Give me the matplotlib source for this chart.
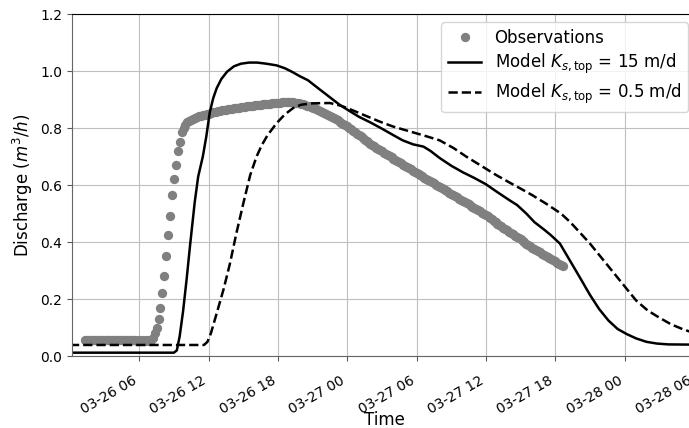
import pandas as pd
import matplotlib.pyplot as plt
import matplotlib.dates as mdates

# Observed discharge, 10-minute records starting 03-26 01:20
obs_start = "2021-03-26 01:20"
obs_q = [
    0.058, 0.058, 0.057, 0.058, 0.057,
    0.057, 0.058, 0.057, 0.057, 0.056, 0.057,
    0.056, 0.057, 0.056, 0.056, 0.057, 0.056,
    0.056, 0.055, 0.056, 0.055, 0.056, 0.055,
    0.055, 0.056, 0.055, 0.055, 0.054, 0.055,
    0.054, 0.055, 0.054, 0.055, 0.054, 0.056,
    0.065, 0.080, 0.100, 0.130, 0.170, 0.220,
    0.280, 0.350, 0.425, 0.490, 0.565, 0.620,
    0.670, 0.720, 0.752, 0.785, 0.800, 0.812,
    0.820, 0.825, 0.829, 0.832, 0.835, 0.838,
    0.841, 0.843, 0.845, 0.847, 0.849, 0.851,
    0.853, 0.855, 0.856, 0.858, 0.859, 0.861,
    0.862, 0.863, 0.865, 0.866, 0.867, 0.868,
    0.869, 0.870, 0.871, 0.872, 0.873, 0.874,
    0.875, 0.876, 0.877, 0.878, 0.879, 0.880,
    0.881, 0.882, 0.882, 0.883, 0.884, 0.885,
    0.886, 0.886, 0.887, 0.888, 0.888, 0.889,
    0.889, 0.890, 0.890, 0.891, 0.891, 0.891,
    0.890, 0.890, 0.889, 0.888, 0.887, 0.885,
    0.883, 0.881, 0.879, 0.877, 0.874, 0.872,
    0.869, 0.866, 0.863, 0.860, 0.857, 0.853,
    0.849, 0.846, 0.842, 0.839, 0.835, 0.831,
    0.827, 0.822, 0.818, 0.814, 0.810, 0.806,
    0.801, 0.796, 0.791, 0.786, 0.781, 0.776,
    0.771, 0.766, 0.760, 0.755, 0.750, 0.745,
    0.740, 0.736, 0.731, 0.727, 0.722, 0.718,
    0.714, 0.710, 0.706, 0.701, 0.697, 0.693,
    0.689, 0.685, 0.681, 0.676, 0.672, 0.668,
    0.664, 0.660, 0.656, 0.651, 0.647, 0.643,
    0.639, 0.635, 0.631, 0.626, 0.622, 0.618,
    0.614, 0.610, 0.606, 0.602, 0.598, 0.594,
    0.590, 0.586, 0.582, 0.578, 0.574, 0.570,
    0.566, 0.562, 0.558, 0.553, 0.549, 0.545,
    0.541, 0.537, 0.532, 0.528, 0.524, 0.520,
    0.516, 0.512, 0.508, 0.503, 0.499, 0.495,
    0.490, 0.485, 0.480, 0.475, 0.470, 0.465,
    0.460, 0.456, 0.451, 0.446, 0.442, 0.437,
    0.432, 0.428, 0.423, 0.419, 0.414, 0.410,
    0.405, 0.400, 0.395, 0.390, 0.385, 0.380,
    0.376, 0.372, 0.368, 0.364, 0.360, 0.356,
    0.352, 0.348, 0.344, 0.340, 0.336, 0.332,
    0.328, 0.324, 0.320, 0.317,
]

# Model runs: hours after 03-26 00:00 and discharge
ks15_hours = [0, 9.0, 9.25, 9.5, 9.8, 10.1, 10.4, 10.8, 11.1, 11.5, 11.8, 12.1,
              12.4, 12.7, 13.1, 13.6, 14.2, 14.8, 15.5, 16.2, 17.0, 17.9, 18.6,
              19.2, 19.9, 20.6, 21.1, 21.8, 22.6, 23.4, 24.0, 25.0, 26.0, 27.0,
              28.0, 28.8, 29.7, 30.6, 31.2, 32.0, 33.0, 34.0, 35.0, 36.0, 37.0,
              38.0, 38.7, 39.5, 40.2, 41.0, 41.6, 42.4, 43.2, 44.1, 45.0, 45.8,
              46.6, 47.4, 48.2, 49.0, 49.9, 50.8, 51.8, 54.5]
ks15_q = [0.012, 0.012, 0.02, 0.07, 0.16, 0.27, 0.39, 0.54, 0.63, 0.70, 0.77, 0.855,
          0.905, 0.94, 0.972, 0.998, 1.017, 1.026, 1.03, 1.03, 1.026, 1.02, 1.01,
          0.998, 0.982, 0.968, 0.952, 0.93, 0.905, 0.88, 0.865, 0.84, 0.82, 0.798,
          0.775, 0.757, 0.743, 0.735, 0.72, 0.695, 0.668, 0.645, 0.625, 0.603, 0.575,
          0.548, 0.53, 0.50, 0.47, 0.445, 0.425, 0.395, 0.34, 0.278, 0.215, 0.165,
          0.125, 0.095, 0.077, 0.062, 0.05, 0.044, 0.041, 0.04]

ks05_hours = [0, 11.6, 11.9, 12.2, 12.7, 13.3, 13.85, 14.4, 15.0, 15.6, 16.15, 16.6,
              17.1, 17.9, 18.6, 19.3, 20.0, 21.0, 22.5, 23.5, 24.5, 25.5, 26.8, 28.0,
              29.7, 30.8, 32.0, 33.2, 34.3, 35.5, 36.9, 38.0, 38.9, 40.0, 41.2, 42.5,
              43.3, 44.1, 45.0, 46.0, 47.0, 48.0, 49.0, 50.0, 51.0, 52.0, 53.0, 54.5]
ks05_q = [0.039, 0.039, 0.05, 0.08, 0.15, 0.235, 0.325, 0.43, 0.535, 0.635, 0.70, 0.74,
          0.775, 0.818, 0.848, 0.87, 0.882, 0.887, 0.888, 0.878, 0.862, 0.845, 0.823, 0.805,
          0.785, 0.772, 0.757, 0.73, 0.70, 0.67, 0.635, 0.61, 0.59, 0.565, 0.535, 0.50,
          0.47, 0.435, 0.395, 0.345, 0.295, 0.245, 0.195, 0.16, 0.135, 0.112, 0.095, 0.074]

t0 = pd.Timestamp("2021-03-26 00:00")
obs_t = pd.date_range(obs_start, periods=len(obs_q), freq="10min")
ks15_t = t0 + pd.to_timedelta(ks15_hours, unit="h")
ks05_t = t0 + pd.to_timedelta(ks05_hours, unit="h")

plt.rcParams['font.size'] = 12

fig = plt.figure(figsize=(6.89, 4.28), dpi=100)
# axes runs a little past the right edge of the figure, as in the original
ax = fig.add_axes([0.1045, 0.168, 0.906, 0.799])

ax.plot(obs_t, obs_q, 'o', color='gray', markersize=5.7, label='Observations')
ax.plot(ks15_t, ks15_q, '-', color='black', linewidth=1.8,
        label=r'Model $K_{s,\mathrm{top}}$ = 15 m/d')
ax.plot(ks05_t, ks05_q, '--', color='black', linewidth=1.8,
        label=r'Model $K_{s,\mathrm{top}}$ = 0.5 m/d')

ax.set_xlim(t0 + pd.Timedelta(hours=0.18), t0 + pd.Timedelta(hours=54.2))
ax.set_ylim(0, 1.2)
ax.xaxis.set_major_locator(mdates.HourLocator(byhour=[0, 6, 12, 18]))
ax.xaxis.set_major_formatter(mdates.DateFormatter('%m-%d %H'))
plt.setp(ax.get_xticklabels(), rotation=30, ha='right')
ax.tick_params(labelsize=10, color='0.35')
ax.tick_params(axis='x', pad=9)
ax.spines['left'].set_color('0.4')
ax.spines['bottom'].set_color('0.4')
ax.grid(True, color='0.75')

ax.set_xlabel('Time', labelpad=-4)
ax.set_ylabel('Discharge ($m^3/h$)')
ax.legend(loc='upper right', labelspacing=0.3)

fig.savefig('out.png', dpi=100)
